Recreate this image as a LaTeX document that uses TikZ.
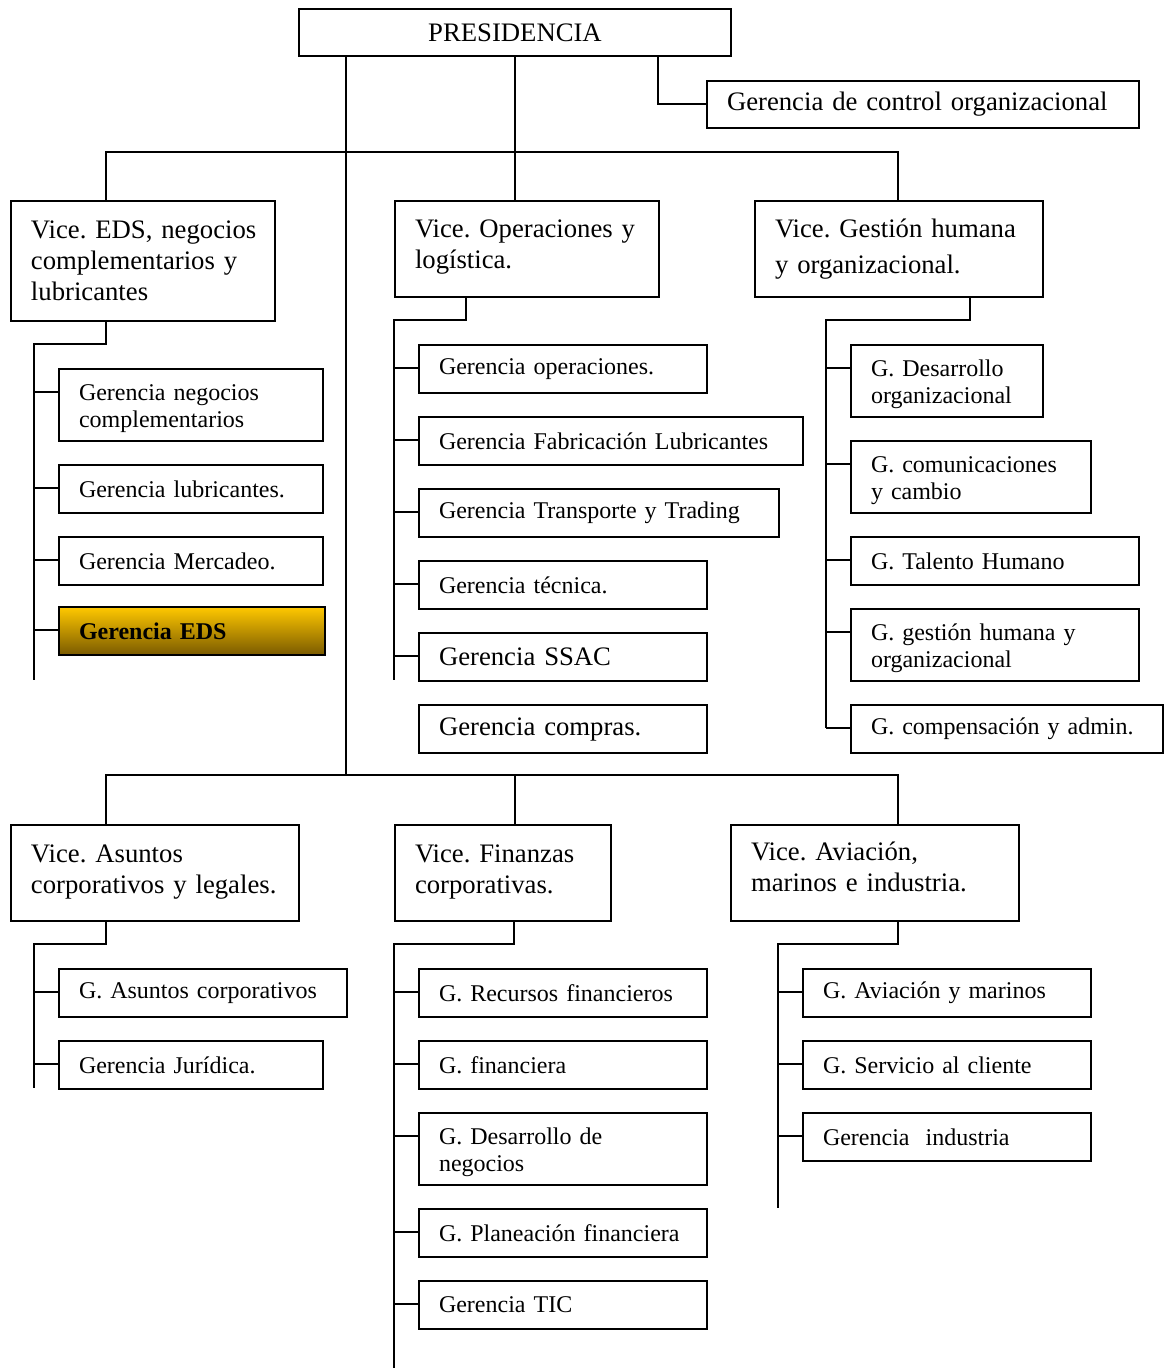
\documentclass[tikz,border=0pt]{standalone}
\usepackage{fontspec}
\setmainfont{Liberation Serif}
\frenchspacing
\hyphenpenalty=10000
\exhyphenpenalty=10000
\begin{document}
\begin{tikzpicture}[x=0.5pt,y=-0.5pt,
  ln/.style={line width=1pt, line join=miter},
  bx/.style={draw, line width=1pt, anchor=north west, inner xsep=10pt, inner ysep=0pt, align=left, minimum height=24pt},
  big/.style={font=\fontsize{13.35}{15.5}\selectfont},
  sml/.style={font=\fontsize{12}{13.5}\selectfont},
  two/.style={minimum height=36pt},
  vice/.style={bx, big, minimum height=48pt},
  eds/.style={top color={rgb,255:red,255;green,200;blue,0}, bottom color={rgb,255:red,122;green,90;blue,0}, shading angle=0}
]
\useasboundingbox (0,0) rectangle (1171,1370);

% ---------- nodes ----------
\node[bx, big, align=center, text width=196pt, minimum height=23.5pt] (pres) at (298,8) {PRESIDENCIA};
\node[bx, big, text width=196pt, minimum height=23.5pt] (ctrl) at (706,80) {Gerencia de control organizacional};

\node[vice, text width=112pt, minimum height=60pt] (vEDS) at (10,200) {\mbox{Vice. EDS, negocios}\\\mbox{complementarios y}\\lubricantes};
\node[vice, text width=112pt] (vOp) at (394,200) {\mbox{Vice. Operaciones y}\\log\'istica.\rule[-5pt]{0pt}{0pt}};
\node[vice, text width=124pt, font=\fontsize{13.35}{18}\selectfont] (vGH) at (754,200) {Vice. Gesti\'on humana\\y organizacional.\rule[-3pt]{0pt}{0pt}};

\node[bx, sml, two, text width=112pt] (gNeg) at (58,368) {\rule{0pt}{12pt}Gerencia negocios\\complementarios};
\node[bx, sml, text width=112pt] (gLub) at (58,464) {Gerencia lubricantes.};
\node[bx, sml, text width=112pt] (gMer) at (58,536) {Gerencia Mercadeo.};
\node[bx, sml, eds, text width=113pt, font=\fontsize{12}{13.5}\selectfont\bfseries] (gEDS) at (58,606) {Gerencia EDS};

\node[bx, sml, text width=124pt] (gOper) at (418,344) {Gerencia operaciones.};
\node[bx, sml, text width=172pt] (gFab) at (418,416) {Gerencia Fabricaci\'on Lubricantes};
\node[bx, sml, text width=160pt] (gTra) at (418,488) {Gerencia Transporte y Trading};
\node[bx, sml, text width=124pt] (gTec) at (418,560) {Gerencia t\'ecnica.};
\node[bx, big, text width=124pt] (gSSAC) at (418,632) {Gerencia SSAC};
\node[bx, big, text width=124pt] (gCom) at (418,704) {Gerencia compras.};

\node[bx, sml, two, text width=76pt] (gDes) at (850,344) {\rule{0pt}{12pt}G. Desarrollo\\organizacional};
\node[bx, sml, two, text width=100pt] (gComu) at (850,440) {\rule{0pt}{12pt}G. comunicaciones\\y cambio};
\node[bx, sml, text width=124pt] (gTal) at (850,536) {G. Talento Humano};
\node[bx, sml, two, text width=124pt] (gGes) at (850,608) {\rule{0pt}{12pt}G. gesti\'on humana y\\organizacional};
\node[bx, sml, text width=136pt] (gCmp) at (850,704) {G. compensaci\'on y admin.};

\node[vice, text width=124pt] (vAsu) at (10,824) {Vice. Asuntos\\corporativos y legales.\rule[-4pt]{0pt}{0pt}};
\node[vice, text width=88pt] (vFin) at (394,824) {Vice. Finanzas\\corporativas.\rule[-4pt]{0pt}{0pt}};
\node[vice, text width=124pt] (vAvi) at (730,824) {Vice. Aviaci\'on,\\marinos e industria.\rule[-6pt]{0pt}{0pt}};

\node[bx, sml, text width=124pt] (gAsu) at (58,968) {G. Asuntos corporativos};
\node[bx, sml, text width=112pt] (gJur) at (58,1040) {Gerencia Jur\'idica.};

\node[bx, sml, text width=124pt] (gRec) at (418,968) {G. Recursos financieros};
\node[bx, sml, text width=124pt] (gFin) at (418,1040) {G. financiera};
\node[bx, sml, two, text width=124pt] (gDesN) at (418,1112) {\rule{0pt}{12pt}G. Desarrollo de\\negocios};
\node[bx, sml, text width=124pt] (gPla) at (418,1208) {G. Planeaci\'on financiera};
\node[bx, sml, text width=124pt] (gTIC) at (418,1280) {Gerencia TIC};

\node[bx, sml, text width=124pt] (gAvM) at (802,968) {G. Aviaci\'on y marinos};
\node[bx, sml, text width=124pt] (gSer) at (802,1040) {G. Servicio al cliente};
\node[bx, sml, text width=124pt] (gInd) at (802,1112) {Gerencia~ industria};

% ---------- junction coordinates ----------
\coordinate (cP) at (346,775);
\coordinate (cC) at (658,0);
\coordinate (tL) at (106,152);
\coordinate (tR) at (898,152);
\coordinate (bL) at (106,775);
\coordinate (bR) at (898,775);

\coordinate (eD) at (106,344);  \coordinate (eS) at (34,344);  \coordinate (eE) at (34,680);
\coordinate (oD) at (466,320);  \coordinate (oS) at (394,320); \coordinate (oE) at (394,680);
\coordinate (hD) at (970,320);  \coordinate (hS) at (826,320); \coordinate (hE) at (826,728);
\coordinate (aD) at (106,944);  \coordinate (aS) at (34,944);  \coordinate (aE) at (34,1088);
\coordinate (fD) at (514,944);  \coordinate (fS) at (394,944); \coordinate (fE) at (394,1368);
\coordinate (vD) at (898,944);  \coordinate (vS) at (778,944); \coordinate (vE) at (778,1208);

% ---------- connectors ----------
\draw[ln] (pres.south -| cP) -- (cP);
\draw[ln] (pres.south) -- (pres.south |- vOp.north);
\draw[ln] (pres.south -| cC) |- (ctrl.west);
\draw[ln] (tL |- vEDS.north) -- (tL) -- (tR) -- (tR |- vGH.north);
\draw[ln] (bL |- vAsu.north) -- (bL) -- (bR) -- (bR |- vAvi.north);
\draw[ln] (pres.south |- bL) -- (pres.south |- vFin.north);

\draw[ln] (eD |- vEDS.south) -- (eD) -- (eS) -- (eE);
\draw[ln] (oD |- vOp.south) -- (oD) -- (oS) -- (oE);
\draw[ln] (hD |- vGH.south) -- (hD) -- (hS) -- (hE);
\draw[ln] (aD |- vAsu.south) -- (aD) -- (aS) -- (aE);
\draw[ln] (fD |- vFin.south) -- (fD) -- (fS) -- (fE);
\draw[ln] (vD |- vAvi.south) -- (vD) -- (vS) -- (vE);

\foreach \n in {gNeg,gLub,gMer,gEDS}
  \draw[ln] ([yshift=-12pt]\n.north west) -- ([yshift=-12pt]\n.north west -| eS);
\foreach \n in {gOper,gFab,gTra,gTec,gSSAC}
  \draw[ln] ([yshift=-12pt]\n.north west) -- ([yshift=-12pt]\n.north west -| oS);
\foreach \n in {gDes,gComu,gTal,gGes,gCmp}
  \draw[ln] ([yshift=-12pt]\n.north west) -- ([yshift=-12pt]\n.north west -| hS);
\foreach \n in {gAsu,gJur}
  \draw[ln] ([yshift=-12pt]\n.north west) -- ([yshift=-12pt]\n.north west -| aS);
\foreach \n in {gRec,gFin,gDesN,gPla,gTIC}
  \draw[ln] ([yshift=-12pt]\n.north west) -- ([yshift=-12pt]\n.north west -| fS);
\foreach \n in {gAvM,gSer,gInd}
  \draw[ln] ([yshift=-12pt]\n.north west) -- ([yshift=-12pt]\n.north west -| vS);
\end{tikzpicture}
\end{document}
